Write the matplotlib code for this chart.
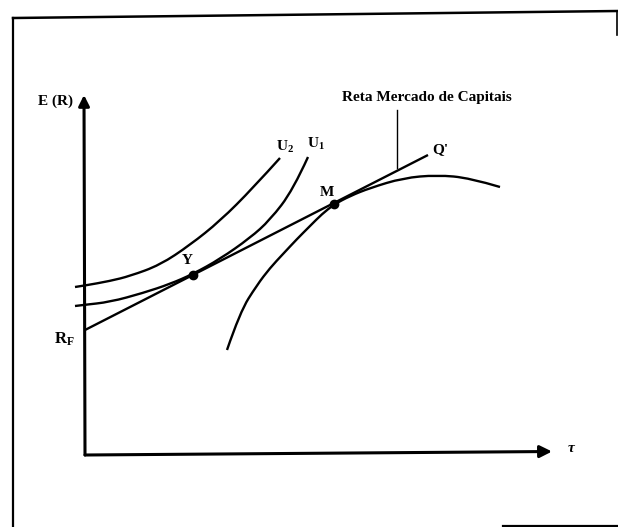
import matplotlib
matplotlib.use("Agg")
from matplotlib import pyplot as plt
from matplotlib.lines import Line2D
from matplotlib.path import Path
from matplotlib.patches import PathPatch

plt.rcParams["mathtext.fontset"] = "custom"
plt.rcParams["mathtext.rm"] = "Liberation Serif:bold"
plt.rcParams["mathtext.bf"] = "Liberation Serif:bold"
plt.rcParams["mathtext.it"] = "Liberation Serif:italic:bold"

# sigma (x) and E(R) (y) values, arbitrary units
u2_x = [-1.0, 0.0, 2.5, 4.5, 7.5, 10.5, 13.5, 16.8, 19.5]
u2_y = [16.8, 16.95, 17.4, 17.9, 19.0, 21.0, 23.4, 26.7, 29.7]

u1_x = [-1.0, -0.2, 2.5, 5.8, 8.5, 10.8, 13.5, 16.5, 18.5, 20.8, 22.3]
u1_y = [14.9, 15.0, 15.3, 16.2, 17.1, 18.1, 19.6, 21.7, 23.5, 26.5, 29.8]

frontier_x = [14.2, 15.5, 17.2, 18.5, 19.8, 21.2, 22.5, 23.7, 24.9, 26.5, 28.5, 31.8, 35.2, 38.5, 41.5]
frontier_y = [10.5, 14.3, 17.0, 18.7, 20.1, 21.6, 22.9, 24.1, 25.05, 25.9, 26.7, 27.7, 28.0, 27.7, 26.8]

cml_x = [0.0, 34.3]
cml_y = [12.5, 30.0]

point_x = [10.8, 24.9]
point_y = [18.05, 25.1]
point_labels = ["Y", "M"]


def smooth(ax, xs, ys, lw):
    # quadratic Bezier chain: read points act as control points
    verts = [(xs[0], ys[0])]
    codes = [Path.MOVETO]
    for i in range(1, len(xs) - 1):
        mx = (xs[i] + xs[i + 1]) / 2.0
        my = (ys[i] + ys[i + 1]) / 2.0
        if i == len(xs) - 2:
            mx, my = xs[-1], ys[-1]
        verts += [(xs[i], ys[i]), (mx, my)]
        codes += [Path.CURVE3, Path.CURVE3]
    ax.add_patch(PathPatch(Path(verts, codes), fill=False, lw=lw, edgecolor="black", capstyle="butt"))


fig = plt.figure(figsize=(6.18, 5.27), dpi=100)
ax = fig.add_axes([0, 0, 1, 1])
ax.set_xlim(-8.5, 53.3)
ax.set_ylim(-7.2, 45.5)
ax.axis("off")

serif = ["Liberation Serif", "DejaVu Serif"]
lw = 1.7

# axes with arrows
ax.annotate("", xy=(-0.1, 36.0), xytext=(0, 0),
            arrowprops=dict(arrowstyle="-|>", lw=2.2, color="black",
                            mutation_scale=16, shrinkA=0, shrinkB=0))
ax.annotate("", xy=(46.7, 0.35), xytext=(0, 0),
            arrowprops=dict(arrowstyle="-|>", lw=2.2, color="black",
                            mutation_scale=18, shrinkA=0, shrinkB=0))

# curves
smooth(ax, u2_x, u2_y, lw)
smooth(ax, u1_x, u1_y, lw)
smooth(ax, frontier_x, frontier_y, lw)
ax.plot(cml_x, cml_y, color="black", lw=lw, solid_capstyle="butt")
ax.plot(point_x, point_y, "o", color="black", ms=6)

# pointer from the label to the line
ax.plot([31.2, 31.2], [34.5, 28.7], color="black", lw=1.0)

fs = 11
kw = dict(ha="center", va="center", fontsize=fs, family=serif, weight="bold")
ax.text(-3.0, 35.4, "E (R)", **kw)
ax.text(34.2, 35.7, "Reta Mercado de Capitais", **kw)
ax.text(20.0, 30.8, "U$_2$", **kw)
ax.text(23.1, 31.1, "U$_1$", **kw)
ax.text(35.5, 30.5, "Q'", **kw)
ax.text(10.2, 19.4, point_labels[0], **kw)
ax.text(24.2, 26.2, point_labels[1], **kw)
ax.text(-2.1, 11.6, "R$_\\mathregular{F}$", ha="center", va="center", fontsize=fs + 1,
        family=serif, weight="bold")
ax.text(48.6, 0.6, "τ", ha="center", va="center", fontsize=fs, family=serif,
        style="italic", weight="bold")

# scanned page frame
W, H = 618.0, 527.0
for (x0, y0), (x1, y1), w in [((13, 18), (13, 527), 1.6),
                              ((13, 18), (618, 11), 1.8),
                              ((617, 11), (617, 35), 1.2),
                              ((503, 526), (618, 526), 1.6)]:
    fig.add_artist(Line2D([x0 / W, x1 / W], [1 - y0 / H, 1 - y1 / H], color="black", lw=w))

plt.savefig("out.png", dpi=100)
